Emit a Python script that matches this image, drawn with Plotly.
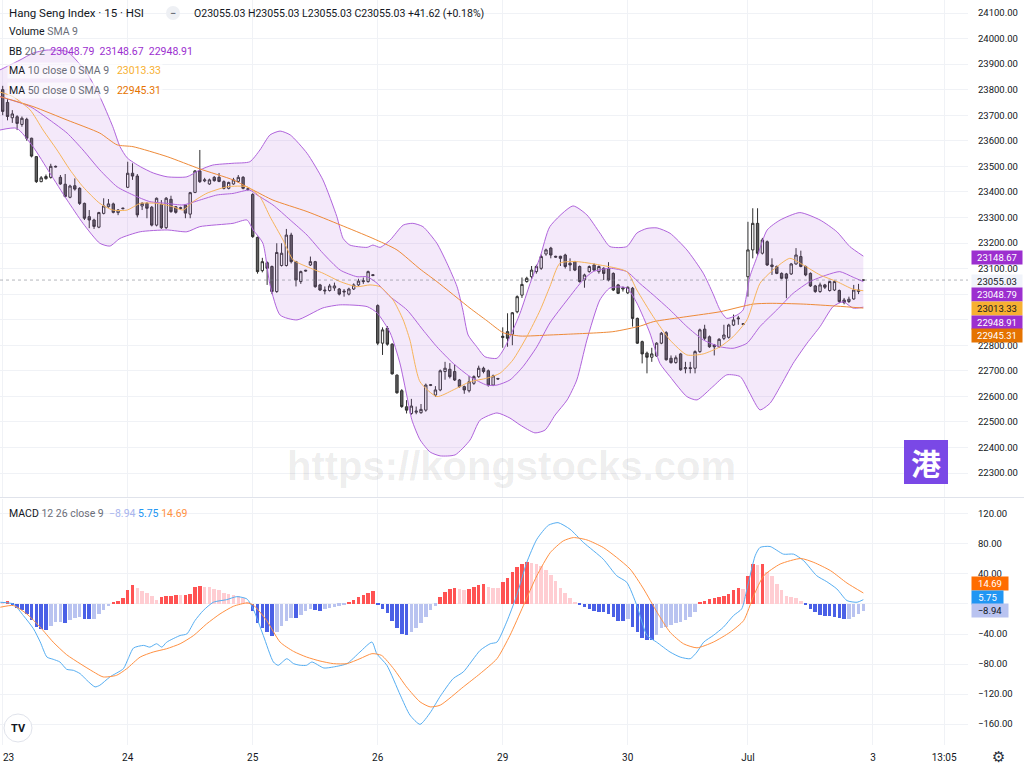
import plotly.graph_objects as go

# ---------------- data ----------------
open_ = [
    23800, 23750, 23690, 23694, 23664, 23684, 23610, 23538, 23440, 23452,
    23457, 23500, 23457, 23430, 23379, 23424, 23414, 23355, 23303, 23290,
    23262, 23316, 23342, 23353, 23319, 23334, 23418, 23473, 23462, 23345,
    23355, 23340, 23270, 23351, 23260, 23371, 23342, 23335, 23349, 23313,
    23398, 23482, 23443, 23431, 23457, 23457, 23440, 23414, 23431, 23441,
    23457, 23412, 23390, 23222, 23092, 23123, 23108, 23010, 23112, 23112,
    23231, 23127, 23049, 23090, 23114, 23127, 23036, 23016, 23014, 23024,
    23020, 23012, 23000, 23020, 23036, 23049, 23049, 23076, 22955, 22808,
    22866, 22804, 22683, 22622, 22559, 22533, 22538, 22536, 22546, 22643,
    22605, 22625, 22697, 22706, 22697, 22664, 22638, 22622, 22651, 22677,
    22710, 22700, 22644, 22670, 22830, 22853, 22843, 22931, 22996, 23049,
    23068, 23088, 23101, 23157, 23180, 23148, 23148, 23153, 23121, 23127,
    23108, 23055, 23088, 23114, 23088, 23101, 23101, 23081, 23036, 23020,
    23005, 23023, 22905, 22814, 22769, 22753, 22758, 22808, 22849, 22749,
    22732, 22766, 22708, 22712, 22710, 22775, 22863, 22833, 22801, 22794,
    22827, 22831, 22879, 22903, 22884, 23068, 23173, 23277, 23160, 23205,
    23114, 23108, 23081, 23079, 23079, 23118, 23147, 23108, 23081, 23032,
    23010, 23036, 23014, 23016, 23014, 22977, 22971, 22981, 23010, 23055.03,
]
high_ = [
    23815, 23765, 23720, 23700, 23695, 23690, 23612, 23540, 23462, 23468,
    23510, 23503, 23466, 23470, 23428, 23453, 23418, 23358, 23329, 23295,
    23322, 23375, 23372, 23358, 23333, 23338, 23518, 23512, 23470, 23360,
    23360, 23345, 23378, 23368, 23380, 23385, 23345, 23342, 23352, 23400,
    23485, 23564, 23455, 23452, 23462, 23474, 23445, 23440, 23455, 23466,
    23462, 23415, 23395, 23225, 23142, 23128, 23112, 23199, 23199, 23255,
    23240, 23130, 23092, 23095, 23147, 23130, 23040, 23030, 23040, 23045,
    23024, 23020, 23025, 23042, 23060, 23065, 23092, 23078, 22960, 22870,
    22875, 22808, 22686, 22628, 22585, 22590, 22560, 22570, 22650, 22648,
    22640, 22705, 22735, 22730, 22725, 22668, 22642, 22680, 22682, 22720,
    22716, 22705, 22685, 22672, 22870, 22925, 22930, 22995, 23065, 23068,
    23110, 23115, 23155, 23178, 23185, 23150, 23150, 23158, 23140, 23130,
    23112, 23080, 23112, 23120, 23112, 23105, 23125, 23085, 23040, 23030,
    23030, 23028, 22908, 22818, 22775, 22790, 22812, 22852, 22855, 22760,
    22760, 22770, 22735, 22735, 22780, 22865, 22880, 22838, 22805, 22828,
    22880, 22884, 22920, 22915, 22886, 23283, 23336, 23336, 23220, 23210,
    23140, 23112, 23085, 23083, 23122, 23180, 23170, 23112, 23085, 23036,
    23045, 23040, 23052, 23052, 23018, 22985, 22990, 23036, 23040, 23055.03,
]
low_ = [
    23700, 23680, 23670, 23642, 23655, 23600, 23535, 23435, 23438, 23448,
    23452, 23496, 23428, 23378, 23375, 23405, 23349, 23290, 23258, 23255,
    23258, 23312, 23338, 23316, 23309, 23332, 23415, 23447, 23300, 23329,
    23297, 23265, 23265, 23255, 23255, 23318, 23315, 23330, 23297, 23297,
    23395, 23435, 23438, 23428, 23440, 23438, 23410, 23410, 23428, 23436,
    23410, 23405, 23220, 23080, 23085, 23036, 23000, 23005, 23108, 23108,
    23120, 23030, 23040, 23088, 23110, 23025, 23012, 22999, 23010, 23013,
    22995, 22990, 22995, 23016, 23032, 23040, 23045, 23070, 22800, 22762,
    22798, 22685, 22610, 22555, 22533, 22528, 22530, 22532, 22540, 22640,
    22598, 22620, 22665, 22670, 22660, 22634, 22610, 22615, 22645, 22672,
    22690, 22638, 22640, 22665, 22790, 22794, 22800, 22925, 22985, 23045,
    23060, 23080, 23095, 23150, 23140, 23143, 23110, 23100, 23090, 23090,
    23045, 23025, 23084, 23090, 23080, 23055, 23050, 23012, 23000, 23010,
    23000, 22873, 22805, 22729, 22690, 22735, 22755, 22804, 22740, 22728,
    22728, 22700, 22690, 22690, 22690, 22770, 22820, 22790, 22760, 22790,
    22820, 22826, 22875, 22880, 22880, 22990, 23140, 23150, 23155, 23110,
    23075, 23078, 23058, 22984, 23075, 23115, 23105, 23070, 23028, 23005,
    23005, 23020, 23010, 23012, 22965, 22960, 22965, 22978, 23000, 23055.03,
]
close_ = [
    23715, 23695, 23705, 23668, 23688, 23610, 23540, 23440, 23455, 23460,
    23500, 23498, 23431, 23382, 23423, 23411, 23355, 23297, 23290, 23265,
    23319, 23345, 23353, 23320, 23329, 23336, 23473, 23462, 23310, 23355,
    23336, 23270, 23375, 23260, 23375, 23323, 23320, 23338, 23317, 23397,
    23482, 23440, 23447, 23447, 23444, 23441, 23414, 23437, 23447, 23457,
    23414, 23410, 23225, 23088, 23127, 23101, 23010, 23163, 23160, 23231,
    23127, 23055, 23088, 23093, 23127, 23029, 23016, 23013, 23032, 23032,
    23000, 23009, 23020, 23036, 23051, 23052, 23088, 23073, 22808, 22860,
    22804, 22688, 22614, 22560, 22546, 22562, 22542, 22549, 22644, 22645,
    22625, 22700, 22710, 22677, 22664, 22638, 22625, 22657, 22677, 22710,
    22697, 22644, 22680, 22668, 22835, 22827, 22927, 22990, 23038, 23062,
    23094, 23108, 23147, 23173, 23153, 23145, 23140, 23108, 23114, 23094,
    23049, 23075, 23108, 23094, 23108, 23081, 23055, 23016, 23003, 23024,
    23027, 22905, 22808, 22766, 22753, 22766, 22808, 22847, 22743, 22732,
    22751, 22704, 22712, 22709, 22775, 22860, 22827, 22794, 22794, 22823,
    22840, 22879, 22899, 22906, 22882, 23173, 23277, 23160, 23212, 23114,
    23108, 23081, 23062, 23062, 23118, 23153, 23108, 23075, 23032, 23010,
    23036, 23027, 23049, 23049, 22971, 22967, 22980, 23016, 23016, 23055.03,
]
bar_index = list(range(len(close_)))

# Bollinger Bands (20, 2) read at sample bars
bb_upper_x = [-0.6, 3.6, 6.3, 9.2, 13.4, 17.5, 20.2, 22.9, 24.4, 25.9, 28.6, 31.3, 34.2, 38.3, 41.0,
              43.7, 47.9, 51.4, 53.5, 55.6, 57.7, 59.8, 63.3, 66.6, 69.5, 70.8, 72.2, 75.8, 77.0, 78.5,
              80.6, 83.3, 85.3, 87.4, 90.3, 92.4, 94.5, 95.7, 96.8, 98.6, 100.3, 102.8, 104.1, 105.5,
              107.6, 109.7, 111.8, 113.8, 118.6, 121.5, 124.2, 126.3, 129.8, 131.9, 134.0, 136.1, 138.8,
              142.3, 145.7, 147.7, 149.2, 150.6, 152.7, 154.0, 155.4, 156.9, 159.0, 161.7, 165.8, 170.0,
              173.5, 176.2, 179]
bb_upper_y = [23877, 23916, 23943, 23955, 23949, 23865, 23773, 23655, 23577, 23533, 23499, 23474, 23459,
              23459, 23486, 23505, 23512, 23518, 23564, 23623, 23638, 23623, 23551, 23447, 23303, 23218,
              23192, 23183, 23192, 23183, 23212, 23270, 23277, 23264, 23199, 23121, 23029, 22938, 22840,
              22794, 22755, 22749, 22781, 22833, 22925, 23042, 23146, 23264, 23345, 23310, 23239, 23186,
              23186, 23239, 23257, 23259, 23238, 23173, 23082, 23003, 22938, 22905, 22918, 22938, 23068,
              23146, 23251, 23290, 23319, 23290, 23244, 23186, 23148.67]
bb_basis_x = [-0.6, 5.7, 9.8, 13.4, 16.7, 20.2, 23.8, 27.1, 30.6, 34.2, 37.5, 41.0, 44.6, 47.9, 51.4,
              52.9, 56.2, 59.8, 63.3, 66.6, 70.2, 73.7, 75.8, 77.9, 80.6, 84.1, 87.4, 90.3, 93.7, 97.2,
              100.7, 102.8, 105.5, 108.2, 111.1, 113.8, 117.4, 120.7, 122.8, 126.3, 129.8, 132.5, 135.3,
              138.8, 142.3, 145.7, 149.2, 151.9, 154.8, 157.5, 161.0, 164.4, 167.9, 171.4, 174.1, 176.9, 179]
bb_basis_y = [23773, 23734, 23681, 23630, 23564, 23486, 23420, 23388, 23362, 23355, 23349, 23368, 23388,
              23394, 23407, 23388, 23349, 23290, 23231, 23160, 23094, 23068, 23068, 23042, 22990, 22938,
              22860, 22794, 22729, 22677, 22644, 22644, 22664, 22716, 22794, 22887, 22977, 23055, 23088,
              23101, 23088, 23042, 22997, 22938, 22873, 22821, 22794, 22788, 22808, 22873, 22938, 23003,
              23049, 23075, 23088, 23066, 23048.79]
bb_lower_x = [-0.6, 2.9, 6.3, 9.8, 13.4, 16.7, 20.2, 22.3, 24.4, 28.6, 34.2, 38.3, 41.0, 47.9, 50.8,
              52.1, 54.1, 55.6, 57.7, 61.2, 66.6, 70.2, 75.8, 77.9, 80.6, 82.6, 84.1, 85.1, 86.8, 88.9,
              91.0, 94.1, 97.2, 99.3, 102.8, 105.5, 107.6, 110.7, 112.8, 114.9, 117.4, 119.4, 121.5,
              124.2, 126.3, 129.8, 131.9, 134.6, 136.7, 138.8, 142.3, 144.4, 147.7, 150.6, 153.4, 155.4,
              157.5, 159.6, 161.7, 164.4, 167.3, 170.0, 172.7, 174.8, 176.9, 179]
bb_lower_y = [23642, 23649, 23577, 23474, 23368, 23277, 23199, 23188, 23218, 23244, 23251, 23244, 23264,
              23277, 23290, 23251, 23200, 23036, 22918, 22899, 22946, 22958, 22951, 22926, 22848, 22731,
              22598, 22508, 22430, 22382, 22367, 22371, 22429, 22507, 22535, 22515, 22488, 22457, 22468,
              22527, 22586, 22664, 22820, 22977, 23024, 23024, 22965, 22848, 22729, 22677, 22599, 22586,
              22638, 22684, 22677, 22612, 22547, 22573, 22638, 22729, 22808, 22873, 22951, 22970, 22945,
              22948.91]

# Moving averages read at sample bars
ma50_x = [-0.6, 6.3, 13.4, 20.2, 23.8, 27.1, 34.2, 41.0, 47.9, 52.1, 56.2, 63.3, 70.2, 77.0, 82.0, 86.8,
          90.3, 97.2, 100.7, 104.1, 107.6, 113.8, 117.4, 126.9, 132.6, 135.3, 142.3, 149.2, 156.1, 159.6,
          166.5, 173.5, 179]
ma50_y = [23773, 23734, 23681, 23630, 23584, 23577, 23538, 23490, 23447, 23407, 23368, 23323, 23271,
          23218, 23173, 23098, 23049, 22945, 22896, 22849, 22836, 22840, 22843, 22853, 22875, 22892,
          22912, 22931, 22961, 22964, 22961, 22953, 22945.31]
ma10_x = [-0.6, 2.1, 5.7, 8.4, 11.3, 14.0, 16.7, 20.2, 22.9, 25.9, 28.6, 32.1, 35.4, 37.5, 39.6, 42.5,
          46.7, 50.8, 53.5, 55.6, 58.3, 60.4, 63.3, 66.6, 70.2, 73.7, 76.4, 78.5, 81.2, 83.3, 84.7, 86.8,
          90.3, 93.7, 97.2, 100.7, 103.4, 106.1, 109.0, 111.8, 113.8, 115.9, 119.4, 124.2, 129.8, 131.9,
          135.3, 138.8, 142.3, 145.7, 149.2, 151.9, 154.8, 157.5, 160.2, 163.7, 166.5, 170.0, 173.5,
          176.9, 179]
ma10_y = [23791, 23773, 23721, 23642, 23564, 23486, 23420, 23355, 23329, 23329, 23355, 23355, 23342,
          23329, 23362, 23395, 23420, 23420, 23381, 23303, 23212, 23134, 23107, 23082, 23049, 23029,
          23036, 23029, 22977, 22899, 22820, 22657, 22599, 22625, 22657, 22671, 22690, 22742, 22833,
          22938, 23029, 23121, 23127, 23114, 23088, 23016, 22912, 22820, 22762, 22766, 22794, 22833,
          22899, 23042, 23094, 23140, 23114, 23075, 23049, 23019, 23013.33]

# MACD (12, 26, 9)
macd_hist = [
    3, 4.5, -1.5, -5.7, -8, -13.7, -21, -30, -33, -34.5,
    -28.8, -24.3, -24.0, -25.7, -21.2, -18, -17.8, -20, -20.5, -20,
    -13.7, -8, -2.7, 2.7, 4, 7.5, 18, 24.8, 20.8, 17.3,
    14, 10, 5.3, 9.7, 10.6, 11, 12, 11.5, 12.5, 13.7,
    23, 23.9, 23, 22, 20, 18.6, 15, 13.3, 12, 11,
    7.5, 3, -9.3, -25.7, -32.3, -36.7, -43.3, -37.6, -28.7, -22.6,
    -18, -18.5, -14.6, -10, -6.6, -8, -9.3, -6.6, -4.9, -3.5,
    -2.2, -1.3, 3, 5.3, 8.8, 12, 15, 17.2, -2, -6.6,
    -12.4, -22.6, -31.4, -39.8, -41.1, -37.6, -31.4, -25.7, -16.8, -8,
    -2.2, 9.7, 16.4, 20, 20.8, 20.5, 18.6, 19.5, 22, 25.2,
    26, 22, 21.5, 20.8, 29.6, 34, 42, 49.5, 53, 56,
    55, 53, 51, 45, 38.5, 30.5, 21.7, 14, 7.5, 2.2,
    -1, -4.4, -6.6, -8.8, -10.2, -11, -13.7, -17, -22.6, -23,
    -20, -30, -37.6, -44.7, -47.8, -48, -41, -32, -31, -28,
    -25.7, -23.5, -21.2, -16.8, -11, 2.2, 4.4, 6, 7.5, 8.8,
    10.6, 13, 18, 21, 20, 37.6, 53, 52, 53, 43,
    37, 27, 18, 10, 8.8, 8, 4, -1, -6.6, -11,
    -14, -16, -16.5, -17.7, -19, -20, -19.5, -17, -13.7, -8.94,
]
macd_x = [-0.5, 2.2, 4.3, 6.4, 7.8, 9.2, 10.5, 11.9, 13.3, 14.7, 16.1, 17.5, 19.2, 20.2, 22.3, 25.1, 26.1,
          27.2, 29.3, 30.6, 32.0, 33.1, 34.1, 36.9, 38.3, 40.0, 41.7, 43.8, 46.6, 48.7, 50.8, 52.1, 54.2,
          56.3, 57.3, 59.1, 60.5, 61.9, 63.2, 64.3, 66.8, 68.8, 71.6, 74.3, 76.8, 77.8, 79.9, 82.7, 84.7,
          86.8, 88.9, 91.0, 93.7, 95.8, 99.3, 101.4, 102.8, 104.8, 106.9, 109.0, 111.1, 113.5, 115.5,
          118.0, 120.8, 124.9, 127.7, 129.8, 131.9, 134.0, 136.0, 138.8, 140.9, 143.0, 144.4, 145.8,
          147.8, 149.9, 152.0, 153.7, 154.8, 156.5, 157.5, 159.6, 162.4, 164.5, 166.6, 169.3, 171.4,
          173.5, 175.6, 177.7, 179]
macd_y = [2.3, 0, -15.4, -33, -50.5, -70.7, -73.7, -77.3, -87, -88.4, -92.8, -101.6, -110.5, -108.3,
          -97.2, -86.2, -72.9, -58.7, -55.2, -57.5, -53, -57.5, -50.9, -42, -39.9, -22, -8.8, 2.3, 5.8,
          9.8, 6.7, -6.5, -41.9, -77.3, -81.7, -72.9, -79.5, -81.7, -81.7, -77.3, -85.3, -83.9, -79.5,
          -64, -50.7, -66.2, -81.7, -121.5, -148, -160.4, -145, -123, -99.4, -90.5, -61.8, -53, -50.8,
          -24.2, 11.2, 55.4, 86.3, 104.9, 108.4, 99.6, 81.9, 59.8, 37.7, 28.9, -2.1, -41.9, -50.8, -64,
          -70.7, -72.9, -64, -50.8, -41.9, -30.9, -15.4, -6.5, 20, 64.2, 75.3, 76.6, 66.4, 66.4, 57.6,
          37.7, 29.7, 20, 4.5, 2.3, 5.75]
signal_x = [-0.5, 2.2, 5.0, 7.8, 10.5, 13.3, 16.1, 18.9, 20.9, 23.7, 25.8, 28.6, 31.3, 34.1, 36.9, 39.7,
            42.4, 45.2, 48.0, 50.8, 52.1, 54.9, 57.7, 60.5, 63.2, 66.0, 68.8, 71.6, 74.3, 76.8, 78.8,
            81.3, 84.0, 86.8, 88.9, 91.0, 95.8, 99.3, 102.8, 105.5, 108.3, 111.1, 113.9, 116.6, 118.7,
            121.5, 124.9, 127.7, 130.5, 133.3, 136.1, 138.8, 141.6, 144.4, 147.8, 151.3, 154.1, 156.2,
            158.3, 161.7, 166.0, 168.7, 172.2, 175.6, 179]
signal_y = [-4.3, -2.1, -13.2, -30.9, -50.8, -67.6, -79.5, -90.5, -97.2, -95, -86.2, -70.7, -64, -59.6,
            -53, -42, -26.6, -13.2, -3, 1.4, -1.2, -22, -50.8, -63.2, -70.7, -76, -79.5, -79.5, -72.9,
            -66.2, -68.5, -86.2, -110.5, -130.4, -137.1, -134.8, -110.5, -92.8, -72.9, -41.9, -2.1, 37.7,
            68.6, 84.1, 88.5, 85.4, 75.3, 62, 46.5, 20, -11, -37.6, -53, -58.4, -50.8, -37.6, -22.1,
            11.2, 37.7, 53.2, 60.6, 55.4, 44.3, 27.9, 14.69]

# axis labels (labels hidden behind the value boxes in the reference are left blank)
price_ticks = list(range(22300, 24101, 100))
price_hidden = [22900, 23000]
macd_ticks = [-160, -120, -80, -40, 0, 40, 80, 120]
macd_hidden = [0]
day_tick_pos = [0, 26, 52, 78, 104, 130, 155, 181, 195.8]
day_tick_text = ["23", "24", "25", "26", "29", "30", "Jul", "3", "13:05"]

last_price = 23055.03
bb_last = (23048.79, 23148.67, 22948.91)
ma10_last, ma50_last = 23013.33, 22945.31
hist_last, macd_last, signal_last = -8.94, 5.75, 14.69

# ---------------- styling ----------------
PW, PH = 1024, 768
TEXT = "#131722"
GRAY = "#6a6d78"
GRID = "#f0f2f6"
BB_LINE = "#b064dc"
BB_FILL = "rgba(176,100,220,0.14)"
BB_BOX = "#9c2fcf"
MA10_LINE = "#f7b45a"
MA10_BOX = "#f7b031"
MA50_LINE = "#ee8a38"
MA50_BOX = "#e57300"
MACD_LINE = "#56aef2"
MACD_BOX = "#2196f3"
SIG_LINE = "#ff9142"
SIG_BOX = "#ff6d00"
H_RED, H_PINK, H_DBLUE, H_LBLUE = "#ff5252", "#ffcdd2", "#4a60e6", "#b9c3f0"
FONT = "Roboto"


def fmt_minus(v):
    s = f"{abs(v):.2f}"
    return ("\u2212" + s) if v < 0 else s


def px_x(px):
    return px / PW


def px_y(py):
    return 1 - py / PH


plot_right = 968
x_dom = [0, plot_right / PW]
price_dom = [px_y(497), 1]
macd_dom = [px_y(745), px_y(499)]
bar_step = 4.808
bar0_px = 2.7
x_range = [(0 - bar0_px) / bar_step, (plot_right - bar0_px) / bar_step]

fig = go.Figure()

line_kw = dict(shape="spline", smoothing=0.6)

# Bollinger fill + bands
fig.add_trace(go.Scatter(x=bb_upper_x, y=bb_upper_y, mode="lines", line=dict(color=BB_LINE, width=1, **line_kw),
                         xaxis="x", yaxis="y", hoverinfo="skip"))
fig.add_trace(go.Scatter(x=bb_lower_x, y=bb_lower_y, mode="lines", line=dict(color=BB_LINE, width=1, **line_kw),
                         fill="tonexty", fillcolor=BB_FILL, xaxis="x", yaxis="y", hoverinfo="skip"))
fig.add_trace(go.Scatter(x=bb_basis_x, y=bb_basis_y, mode="lines", line=dict(color=BB_LINE, width=1, **line_kw),
                         xaxis="x", yaxis="y", hoverinfo="skip"))

# candles
fig.add_trace(go.Candlestick(
    x=bar_index, open=open_, high=high_, low=low_, close=close_,
    increasing=dict(line=dict(color="#2f2f2f", width=1), fillcolor="#ffffff"),
    decreasing=dict(line=dict(color="#2f2f2f", width=1), fillcolor="#5e5e5e"),
    whiskerwidth=0, xaxis="x", yaxis="y", hoverinfo="skip"))

# moving averages
fig.add_trace(go.Scatter(x=ma50_x, y=ma50_y, mode="lines", line=dict(color=MA50_LINE, width=1, **line_kw),
                         xaxis="x", yaxis="y", hoverinfo="skip"))
fig.add_trace(go.Scatter(x=ma10_x, y=ma10_y, mode="lines", line=dict(color=MA10_LINE, width=1, **line_kw),
                         xaxis="x", yaxis="y", hoverinfo="skip"))

# MACD histogram colours (TradingView rule: strong when moving away from zero)
hist_colors = []
for i, v in enumerate(macd_hist):
    prev = macd_hist[i - 1] if i > 0 else v
    if v >= 0:
        hist_colors.append(H_RED if v > prev else H_PINK)
    else:
        hist_colors.append(H_LBLUE if v > prev else H_DBLUE)

fig.add_trace(go.Bar(x=bar_index, y=macd_hist, marker=dict(color=hist_colors, line=dict(width=0)),
                     width=0.74, xaxis="x2", yaxis="y2", hoverinfo="skip"))
fig.add_trace(go.Scatter(x=macd_x, y=macd_y, mode="lines", line=dict(color=MACD_LINE, width=1, **line_kw),
                         xaxis="x2", yaxis="y2", hoverinfo="skip"))
fig.add_trace(go.Scatter(x=signal_x, y=signal_y, mode="lines", line=dict(color=SIG_LINE, width=1, **line_kw),
                         xaxis="x2", yaxis="y2", hoverinfo="skip"))

# ---------------- layout ----------------
axis_font = dict(family=FONT, size=9.5, color=TEXT)
tick_font_x = dict(family=FONT, size=10, color=TEXT)
fig.update_layout(
    width=PW, height=PH, margin=dict(l=0, r=0, t=0, b=0),
    paper_bgcolor="white", plot_bgcolor="white", showlegend=False, hovermode=False,
    font=dict(family=FONT, color=TEXT),
    xaxis=dict(domain=x_dom, range=x_range, anchor="y", showticklabels=False, ticks="",
               tickvals=day_tick_pos, showgrid=True, gridcolor=GRID, gridwidth=1, zeroline=False,
               rangeslider=dict(visible=False), showline=False, fixedrange=True),
    yaxis=dict(domain=price_dom, range=[22206.1, 24150.9], side="right", anchor="x",
               tickvals=price_ticks,
               ticktext=["" if v in price_hidden else f"{v:.2f}" for v in price_ticks],
               tickfont=axis_font, ticks="", ticklabelstandoff=9, showgrid=True, gridcolor=GRID,
               zeroline=False, showline=False, automargin=False, fixedrange=True),
    # the first day label sits at the very left edge; it is drawn as an annotation so it is not cut
    xaxis2=dict(domain=x_dom, range=x_range, anchor="y2", tickvals=day_tick_pos,
                ticktext=[""] + day_tick_text[1:],
                tickfont=tick_font_x, ticks="", ticklabelstandoff=5,
                showgrid=True, gridcolor=GRID, zeroline=False, showline=False,
                automargin=False, fixedrange=True),
    yaxis2=dict(domain=macd_dom, range=[-187.9, 139.9], side="right", anchor="x2",
                tickvals=macd_ticks,
                ticktext=["" if v in macd_hidden else fmt_minus(v) for v in macd_ticks],
                tickfont=axis_font, ticks="", ticklabelstandoff=9, showgrid=True, gridcolor=GRID,
                zeroline=False, showline=False, automargin=False, fixedrange=True),
    bargap=0,
)

shapes = []
# last-price dotted line
shapes.append(dict(type="line", xref="paper", yref="y", x0=0, x1=x_dom[1], y0=last_price, y1=last_price,
                   line=dict(color="rgba(120,123,134,0.55)", width=1, dash="dot")))
# pane separator
shapes.append(dict(type="line", xref="paper", yref="paper", x0=0, x1=1, y0=px_y(497.5), y1=px_y(497.5),
                   line=dict(color="#e0e3eb", width=1)))
# legend "collapse" button circle
shapes.append(dict(type="circle", xref="paper", yref="paper", x0=px_x(166), x1=px_x(180),
                   y0=px_y(20), y1=px_y(6), fillcolor="#eef0f4", line=dict(width=0)))
# logo square
shapes.append(dict(type="rect", xref="paper", yref="paper", x0=px_x(904), x1=px_x(948),
                   y0=px_y(484), y1=px_y(440), fillcolor="#7a48e6", line=dict(width=0), layer="above"))
# TradingView badge
shapes.append(dict(type="circle", xref="paper", yref="paper", x0=px_x(4), x1=px_x(32),
                   y0=px_y(742), y1=px_y(714), fillcolor="white", line=dict(color="#e0e3eb", width=1),
                   layer="above"))
fig.update_layout(shapes=shapes)

ann = []


def label(px, py, text, size=10.5, color=TEXT, anchor="left", bg=None, family=FONT):
    d = dict(x=px_x(px), y=px_y(py), xref="paper", yref="paper", xanchor=anchor, yanchor="middle",
             text=text, showarrow=False, font=dict(family=family, size=size, color=color))
    if bg:
        d["bgcolor"] = bg
    ann.append(d)


NB = "\u00a0"
label(7, 13, "Hang Seng Index · 15 · HSI", size=11.5)
label(173, 13, "−", size=11, color="#4a4d57", anchor="center")
v = f"{last_price:.2f}"
label(192, 13, f"O{v}{NB}H{v}{NB}L{v}{NB}C{v}{NB}+41.62{NB}(+0.18%)", size=10.5)
label(7, 32, f"Volume <span style='color:{GRAY}'>SMA 9</span>", size=10.5)
label(7, 51, f"BB <span style='color:{GRAY}'>20 2</span>{NB}{NB}<span style='color:{BB_BOX}'>"
             f"{bb_last[0]:.2f}{NB}{NB}{bb_last[1]:.2f}{NB}{NB}{bb_last[2]:.2f}</span>", size=10.5)
label(7, 71, f"MA <span style='color:{GRAY}'>10 close 0 SMA 9</span>{NB}{NB}{NB}"
             f"<span style='color:{MA10_BOX}'>{ma10_last:.2f}</span>", size=10.5,
      bg="rgba(255,255,255,0.65)")
label(7, 90, f"MA <span style='color:{GRAY}'>50 close 0 SMA 9</span>{NB}{NB}{NB}"
             f"<span style='color:{MA50_BOX}'>{ma50_last:.2f}</span>", size=10.5,
      bg="rgba(255,255,255,0.65)")
label(7, 513, f"MACD <span style='color:{GRAY}'>12 26 close 9</span>{NB}{NB}"
              f"<span style='color:#a9b5ee'>{fmt_minus(hist_last)}</span>{NB}"
              f"<span style='color:{MACD_BOX}'>{macd_last:.2f}</span>{NB}"
              f"<span style='color:{SIG_LINE}'>{signal_last:.2f}</span>", size=10.5)

# first day label at the left edge
ann.append(dict(x=0, y=px_y(757), xref="paper", yref="paper", xanchor="left", yanchor="middle",
                text=day_tick_text[0], showarrow=False, font=tick_font_x, xshift=1))

# watermark
label(511, 466, "<b>https://kongstocks.com</b>", size=40, color="rgba(0,0,0,0.075)", anchor="center",
      family="Liberation Sans")
# logo glyph
label(926, 462, "<b>港</b>", size=30, color="white", anchor="center", family="Noto Sans CJK SC")
# TradingView badge text
label(18, 728, "<b>TV</b>", size=11, color=TEXT, anchor="center")
# gear
label(998, 757, "⚙", size=15, color="#2a2e39", anchor="center", family="DejaVu Sans")


# right-axis value boxes
def box(py, text, bg, fg, w=48):
    ann.append(dict(x=px_x(971), y=px_y(py), xref="paper", yref="paper", xanchor="left", yanchor="middle",
                    text=text, showarrow=False, bgcolor=bg, borderpad=1, width=w, height=11,
                    align="center", font=dict(family=FONT, size=9.5, color=fg)))


box(257.3, f"{bb_last[1]:.2f}", BB_BOX, "white")
box(281.2, f"{last_price:.2f}", "#f0f3fa", TEXT)
box(295.0, f"{bb_last[0]:.2f}", BB_BOX, "white")
box(308.8, f"{ma10_last:.2f}", MA10_BOX, TEXT)
box(322.2, f"{bb_last[2]:.2f}", BB_BOX, "white")
box(335.5, f"{ma50_last:.2f}", MA50_BOX, "white")
box(583.3, f"{signal_last:.2f}", SIG_BOX, "white", w=34)
box(597.0, f"{macd_last:.2f}", MACD_BOX, "white", w=29)
box(610.3, fmt_minus(hist_last), "#b9c3f0", TEXT, w=34)

fig.update_layout(annotations=ann)

fig.write_html("out.html")
